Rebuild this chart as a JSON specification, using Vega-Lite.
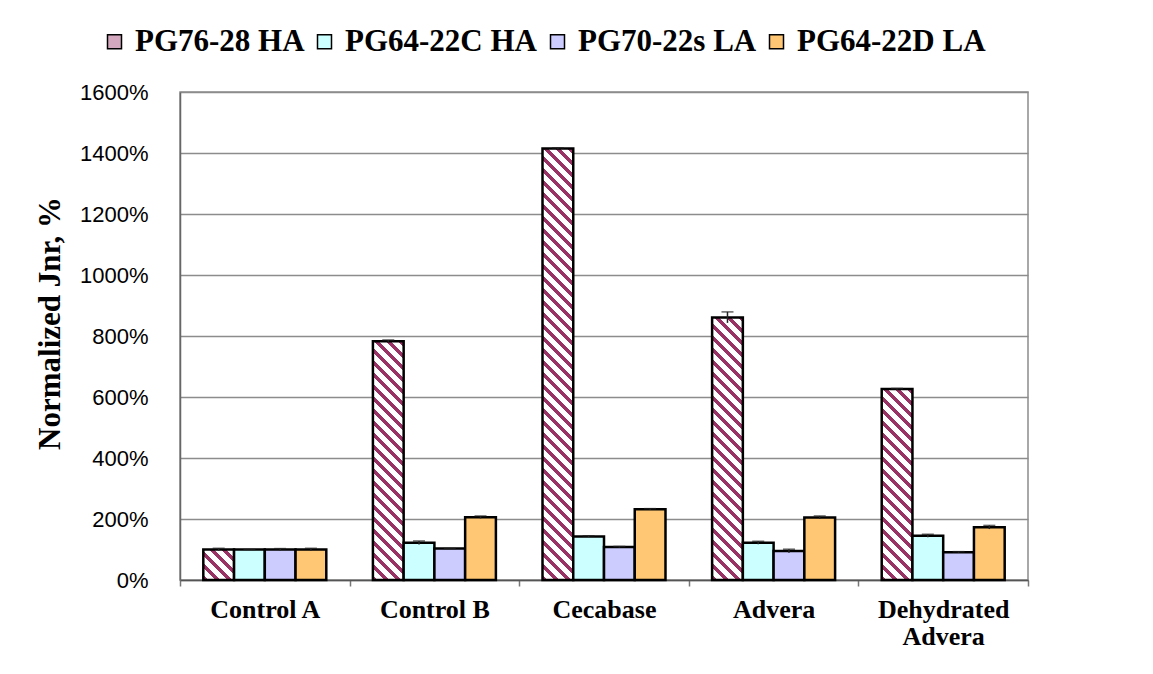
{
  "$schema": "https://vega.github.io/schema/vega-lite/v6.json",
  "autosize": "none",
  "width": 848,
  "height": 488,
  "padding": {"left": 180, "top": 92, "right": 125, "bottom": 94},
  "background": "white",
  "config": {
    "view": {"stroke": "#8c8c8c", "strokeWidth": 1.5},
    "axis": {"labelColor": "black", "titleColor": "black"}
  },
  "data": {
    "values": [
      {"cat": "Control A", "series": "PG76-28 HA", "value": 100, "err": 4},
      {"cat": "Control A", "series": "PG64-22C HA", "value": 100, "err": 0},
      {"cat": "Control A", "series": "PG70-22s LA", "value": 100, "err": 3},
      {"cat": "Control A", "series": "PG64-22D LA", "value": 100, "err": 4},
      {"cat": "Control B", "series": "PG76-28 HA", "value": 783, "err": 4},
      {"cat": "Control B", "series": "PG64-22C HA", "value": 122, "err": 6},
      {"cat": "Control B", "series": "PG70-22s LA", "value": 103, "err": 0},
      {"cat": "Control B", "series": "PG64-22D LA", "value": 206, "err": 4},
      {"cat": "Cecabase", "series": "PG76-28 HA", "value": 1415, "err": 2},
      {"cat": "Cecabase", "series": "PG64-22C HA", "value": 143, "err": 2},
      {"cat": "Cecabase", "series": "PG70-22s LA", "value": 108, "err": 2},
      {"cat": "Cecabase", "series": "PG64-22D LA", "value": 232, "err": 2},
      {"cat": "Advera", "series": "PG76-28 HA", "value": 861, "err": 18},
      {"cat": "Advera", "series": "PG64-22C HA", "value": 122, "err": 5},
      {"cat": "Advera", "series": "PG70-22s LA", "value": 95, "err": 6},
      {"cat": "Advera", "series": "PG64-22D LA", "value": 205, "err": 5},
      {"cat": "Dehydrated Advera", "series": "PG76-28 HA", "value": 626, "err": 2},
      {"cat": "Dehydrated Advera", "series": "PG64-22C HA", "value": 145, "err": 5},
      {"cat": "Dehydrated Advera", "series": "PG70-22s LA", "value": 91, "err": 2},
      {"cat": "Dehydrated Advera", "series": "PG64-22D LA", "value": 173, "err": 6}
    ]
  },
  "transform": [
    {"calculate": "datum.value - datum.err", "as": "lo"},
    {"calculate": "datum.value + datum.err", "as": "hi"}
  ],
  "encoding": {
    "x": {
      "field": "cat", "type": "nominal",
      "sort": ["Control A", "Control B", "Cecabase", "Advera", "Dehydrated Advera"],
      "scale": {"paddingInner": 0, "paddingOuter": 0},
      "axis": {
        "title": null, "labelAngle": 0, "ticks": true, "tickBand": "extent", "tickSize": 6,
        "tickColor": "#777777", "tickWidth": 1.5, "labelPadding": 10,
        "labelFont": "Liberation Serif", "labelFontWeight": "bold", "labelFontSize": 26,
        "labelLineHeight": 27, "labelBaseline": "top",
        "labelExpr": "datum.label == 'Dehydrated Advera' ? ['Dehydrated', 'Advera'] : datum.label",
        "domainColor": "#555555", "domainWidth": 1.5
      }
    },
    "xOffset": {
      "field": "series", "type": "nominal",
      "sort": ["PG76-28 HA", "PG64-22C HA", "PG70-22s LA", "PG64-22D LA"],
      "scale": {"paddingInner": 0, "paddingOuter": 0.758}
    }
  },
  "layer": [
    {
      "mark": {"type": "bar", "stroke": "black", "strokeWidth": 2.5},
      "encoding": {
        "y": {
          "field": "value", "type": "quantitative",
          "scale": {"domain": [0, 1600], "nice": false},
          "axis": {
            "values": [0, 200, 400, 600, 800, 1000, 1200, 1400, 1600],
            "labelExpr": "datum.value + '%'",
            "labelFont": "Liberation Sans", "labelFontSize": 22, "labelPadding": 32,
            "ticks": false,
            "gridColor": "#8c8c8c", "gridWidth": 1.5,
            "domainColor": "#666666", "domainWidth": 1.5,
            "title": "Normalized Jnr, %",
            "titleFont": "Liberation Serif", "titleFontWeight": "bold", "titleFontSize": 31,
            "titleAngle": -90, "titleX": -130, "titleY": 231,
            "titleAlign": "center", "titleBaseline": "middle"
          }
        },
        "fill": {
          "condition": [
            {
              "test": "datum.series == 'PG76-28 HA' && datum.cat == 'Control A'",
              "value": {
                "gradient": "linear", "x1": 0, "y1": 1, "x2": 7.868, "y2": -6.804,
                "stops": [
                  {"offset":0,"color":"#936"},{"offset":0.0105,"color":"#936"},{"offset":0.0105,"color":"#fff"},{"offset":0.025,"color":"#fff"},
                  {"offset":0.025,"color":"#936"},{"offset":0.0355,"color":"#936"},{"offset":0.0355,"color":"#fff"},{"offset":0.05,"color":"#fff"},
                  {"offset":0.05,"color":"#936"},{"offset":0.0605,"color":"#936"},{"offset":0.0605,"color":"#fff"},{"offset":0.075,"color":"#fff"},
                  {"offset":0.075,"color":"#936"},{"offset":0.0855,"color":"#936"},{"offset":0.0855,"color":"#fff"},{"offset":0.1,"color":"#fff"},
                  {"offset":0.1,"color":"#936"},{"offset":0.1105,"color":"#936"},{"offset":0.1105,"color":"#fff"},{"offset":0.125,"color":"#fff"},
                  {"offset":0.125,"color":"#936"},{"offset":0.1355,"color":"#936"},{"offset":0.1355,"color":"#fff"},{"offset":0.15,"color":"#fff"}
                ]
              }
            },
            {
              "test": "datum.series == 'PG76-28 HA' && datum.cat == 'Control B'",
              "value": {
                "gradient": "linear", "x1": 0, "y1": 1, "x2": 0.2546, "y2": -0.9773,
                "stops": [
                  {"offset":0,"color":"#936"},{"offset":0.0105,"color":"#936"},{"offset":0.0105,"color":"#fff"},{"offset":0.025,"color":"#fff"},
                  {"offset":0.025,"color":"#936"},{"offset":0.0355,"color":"#936"},{"offset":0.0355,"color":"#fff"},{"offset":0.05,"color":"#fff"},
                  {"offset":0.05,"color":"#936"},{"offset":0.0605,"color":"#936"},{"offset":0.0605,"color":"#fff"},{"offset":0.075,"color":"#fff"},
                  {"offset":0.075,"color":"#936"},{"offset":0.0855,"color":"#936"},{"offset":0.0855,"color":"#fff"},{"offset":0.1,"color":"#fff"},
                  {"offset":0.1,"color":"#936"},{"offset":0.1105,"color":"#936"},{"offset":0.1105,"color":"#fff"},{"offset":0.125,"color":"#fff"},
                  {"offset":0.125,"color":"#936"},{"offset":0.1355,"color":"#936"},{"offset":0.1355,"color":"#fff"},{"offset":0.15,"color":"#fff"},
                  {"offset":0.15,"color":"#936"},{"offset":0.1605,"color":"#936"},{"offset":0.1605,"color":"#fff"},{"offset":0.175,"color":"#fff"},
                  {"offset":0.175,"color":"#936"},{"offset":0.1855,"color":"#936"},{"offset":0.1855,"color":"#fff"},{"offset":0.2,"color":"#fff"},
                  {"offset":0.2,"color":"#936"},{"offset":0.2105,"color":"#936"},{"offset":0.2105,"color":"#fff"},{"offset":0.225,"color":"#fff"},
                  {"offset":0.225,"color":"#936"},{"offset":0.2355,"color":"#936"},{"offset":0.2355,"color":"#fff"},{"offset":0.25,"color":"#fff"},
                  {"offset":0.25,"color":"#936"},{"offset":0.2605,"color":"#936"},{"offset":0.2605,"color":"#fff"},{"offset":0.275,"color":"#fff"},
                  {"offset":0.275,"color":"#936"},{"offset":0.2855,"color":"#936"},{"offset":0.2855,"color":"#fff"},{"offset":0.3,"color":"#fff"},
                  {"offset":0.3,"color":"#936"},{"offset":0.3105,"color":"#936"},{"offset":0.3105,"color":"#fff"},{"offset":0.325,"color":"#fff"},
                  {"offset":0.325,"color":"#936"},{"offset":0.3355,"color":"#936"},{"offset":0.3355,"color":"#fff"},{"offset":0.35,"color":"#fff"},
                  {"offset":0.35,"color":"#936"},{"offset":0.3605,"color":"#936"},{"offset":0.3605,"color":"#fff"},{"offset":0.375,"color":"#fff"},
                  {"offset":0.375,"color":"#936"},{"offset":0.3855,"color":"#936"},{"offset":0.3855,"color":"#fff"},{"offset":0.4,"color":"#fff"},
                  {"offset":0.4,"color":"#936"},{"offset":0.4105,"color":"#936"},{"offset":0.4105,"color":"#fff"},{"offset":0.425,"color":"#fff"},
                  {"offset":0.425,"color":"#936"},{"offset":0.4355,"color":"#936"},{"offset":0.4355,"color":"#fff"},{"offset":0.45,"color":"#fff"},
                  {"offset":0.45,"color":"#936"},{"offset":0.4605,"color":"#936"},{"offset":0.4605,"color":"#fff"},{"offset":0.475,"color":"#fff"},
                  {"offset":0.475,"color":"#936"},{"offset":0.4855,"color":"#936"},{"offset":0.4855,"color":"#fff"},{"offset":0.5,"color":"#fff"},
                  {"offset":0.5,"color":"#936"},{"offset":0.5105,"color":"#936"},{"offset":0.5105,"color":"#fff"},{"offset":0.525,"color":"#fff"},
                  {"offset":0.525,"color":"#936"},{"offset":0.5355,"color":"#936"},{"offset":0.5355,"color":"#fff"},{"offset":0.55,"color":"#fff"},
                  {"offset":0.55,"color":"#936"},{"offset":0.5605,"color":"#936"},{"offset":0.5605,"color":"#fff"},{"offset":0.575,"color":"#fff"}
                ]
              }
            },
            {
              "test": "datum.series == 'PG76-28 HA' && datum.cat == 'Cecabase'",
              "value": {
                "gradient": "linear", "x1": 0, "y1": 1, "x2": 0.07884, "y2": -0.1065,
                "stops": [
                  {"offset":0,"color":"#936"},{"offset":0.0105,"color":"#936"},{"offset":0.0105,"color":"#fff"},{"offset":0.025,"color":"#fff"},
                  {"offset":0.025,"color":"#936"},{"offset":0.0355,"color":"#936"},{"offset":0.0355,"color":"#fff"},{"offset":0.05,"color":"#fff"},
                  {"offset":0.05,"color":"#936"},{"offset":0.0605,"color":"#936"},{"offset":0.0605,"color":"#fff"},{"offset":0.075,"color":"#fff"},
                  {"offset":0.075,"color":"#936"},{"offset":0.0855,"color":"#936"},{"offset":0.0855,"color":"#fff"},{"offset":0.1,"color":"#fff"},
                  {"offset":0.1,"color":"#936"},{"offset":0.1105,"color":"#936"},{"offset":0.1105,"color":"#fff"},{"offset":0.125,"color":"#fff"},
                  {"offset":0.125,"color":"#936"},{"offset":0.1355,"color":"#936"},{"offset":0.1355,"color":"#fff"},{"offset":0.15,"color":"#fff"},
                  {"offset":0.15,"color":"#936"},{"offset":0.1605,"color":"#936"},{"offset":0.1605,"color":"#fff"},{"offset":0.175,"color":"#fff"},
                  {"offset":0.175,"color":"#936"},{"offset":0.1855,"color":"#936"},{"offset":0.1855,"color":"#fff"},{"offset":0.2,"color":"#fff"},
                  {"offset":0.2,"color":"#936"},{"offset":0.2105,"color":"#936"},{"offset":0.2105,"color":"#fff"},{"offset":0.225,"color":"#fff"},
                  {"offset":0.225,"color":"#936"},{"offset":0.2355,"color":"#936"},{"offset":0.2355,"color":"#fff"},{"offset":0.25,"color":"#fff"},
                  {"offset":0.25,"color":"#936"},{"offset":0.2605,"color":"#936"},{"offset":0.2605,"color":"#fff"},{"offset":0.275,"color":"#fff"},
                  {"offset":0.275,"color":"#936"},{"offset":0.2855,"color":"#936"},{"offset":0.2855,"color":"#fff"},{"offset":0.3,"color":"#fff"},
                  {"offset":0.3,"color":"#936"},{"offset":0.3105,"color":"#936"},{"offset":0.3105,"color":"#fff"},{"offset":0.325,"color":"#fff"},
                  {"offset":0.325,"color":"#936"},{"offset":0.3355,"color":"#936"},{"offset":0.3355,"color":"#fff"},{"offset":0.35,"color":"#fff"},
                  {"offset":0.35,"color":"#936"},{"offset":0.3605,"color":"#936"},{"offset":0.3605,"color":"#fff"},{"offset":0.375,"color":"#fff"},
                  {"offset":0.375,"color":"#936"},{"offset":0.3855,"color":"#936"},{"offset":0.3855,"color":"#fff"},{"offset":0.4,"color":"#fff"},
                  {"offset":0.4,"color":"#936"},{"offset":0.4105,"color":"#936"},{"offset":0.4105,"color":"#fff"},{"offset":0.425,"color":"#fff"},
                  {"offset":0.425,"color":"#936"},{"offset":0.4355,"color":"#936"},{"offset":0.4355,"color":"#fff"},{"offset":0.45,"color":"#fff"},
                  {"offset":0.45,"color":"#936"},{"offset":0.4605,"color":"#936"},{"offset":0.4605,"color":"#fff"},{"offset":0.475,"color":"#fff"},
                  {"offset":0.475,"color":"#936"},{"offset":0.4855,"color":"#936"},{"offset":0.4855,"color":"#fff"},{"offset":0.5,"color":"#fff"},
                  {"offset":0.5,"color":"#936"},{"offset":0.5105,"color":"#936"},{"offset":0.5105,"color":"#fff"},{"offset":0.525,"color":"#fff"},
                  {"offset":0.525,"color":"#936"},{"offset":0.5355,"color":"#936"},{"offset":0.5355,"color":"#fff"},{"offset":0.55,"color":"#fff"},
                  {"offset":0.55,"color":"#936"},{"offset":0.5605,"color":"#936"},{"offset":0.5605,"color":"#fff"},{"offset":0.575,"color":"#fff"},
                  {"offset":0.575,"color":"#936"},{"offset":0.5855,"color":"#936"},{"offset":0.5855,"color":"#fff"},{"offset":0.6,"color":"#fff"},
                  {"offset":0.6,"color":"#936"},{"offset":0.6105,"color":"#936"},{"offset":0.6105,"color":"#fff"},{"offset":0.625,"color":"#fff"},
                  {"offset":0.625,"color":"#936"},{"offset":0.6355,"color":"#936"},{"offset":0.6355,"color":"#fff"},{"offset":0.65,"color":"#fff"},
                  {"offset":0.65,"color":"#936"},{"offset":0.6605,"color":"#936"},{"offset":0.6605,"color":"#fff"},{"offset":0.675,"color":"#fff"},
                  {"offset":0.675,"color":"#936"},{"offset":0.6855,"color":"#936"},{"offset":0.6855,"color":"#fff"},{"offset":0.7,"color":"#fff"},
                  {"offset":0.7,"color":"#936"},{"offset":0.7105,"color":"#936"},{"offset":0.7105,"color":"#fff"},{"offset":0.725,"color":"#fff"},
                  {"offset":0.725,"color":"#936"},{"offset":0.7355,"color":"#936"},{"offset":0.7355,"color":"#fff"},{"offset":0.75,"color":"#fff"},
                  {"offset":0.75,"color":"#936"},{"offset":0.7605,"color":"#936"},{"offset":0.7605,"color":"#fff"},{"offset":0.775,"color":"#fff"},
                  {"offset":0.775,"color":"#936"},{"offset":0.7855,"color":"#936"},{"offset":0.7855,"color":"#fff"},{"offset":0.8,"color":"#fff"},
                  {"offset":0.8,"color":"#936"},{"offset":0.8105,"color":"#936"},{"offset":0.8105,"color":"#fff"},{"offset":0.825,"color":"#fff"},
                  {"offset":0.825,"color":"#936"},{"offset":0.8355,"color":"#936"},{"offset":0.8355,"color":"#fff"},{"offset":0.85,"color":"#fff"},
                  {"offset":0.85,"color":"#936"},{"offset":0.8605,"color":"#936"},{"offset":0.8605,"color":"#fff"},{"offset":0.875,"color":"#fff"},
                  {"offset":0.875,"color":"#936"},{"offset":0.8855,"color":"#936"},{"offset":0.8855,"color":"#fff"},{"offset":0.9,"color":"#fff"},
                  {"offset":0.9,"color":"#936"},{"offset":0.9105,"color":"#936"},{"offset":0.9105,"color":"#fff"},{"offset":0.925,"color":"#fff"},
                  {"offset":0.925,"color":"#936"},{"offset":0.9355,"color":"#936"},{"offset":0.9355,"color":"#fff"},{"offset":0.95,"color":"#fff"},
                  {"offset":0.95,"color":"#936"},{"offset":0.9605,"color":"#936"},{"offset":0.9605,"color":"#fff"},{"offset":0.975,"color":"#fff"}
                ]
              }
            },
            {
              "test": "datum.series == 'PG76-28 HA' && datum.cat == 'Advera'",
              "value": {
                "gradient": "linear", "x1": 0, "y1": 1, "x2": 0.2111, "y2": -0.8032,
                "stops": [
                  {"offset":0,"color":"#936"},{"offset":0.0105,"color":"#936"},{"offset":0.0105,"color":"#fff"},{"offset":0.025,"color":"#fff"},
                  {"offset":0.025,"color":"#936"},{"offset":0.0355,"color":"#936"},{"offset":0.0355,"color":"#fff"},{"offset":0.05,"color":"#fff"},
                  {"offset":0.05,"color":"#936"},{"offset":0.0605,"color":"#936"},{"offset":0.0605,"color":"#fff"},{"offset":0.075,"color":"#fff"},
                  {"offset":0.075,"color":"#936"},{"offset":0.0855,"color":"#936"},{"offset":0.0855,"color":"#fff"},{"offset":0.1,"color":"#fff"},
                  {"offset":0.1,"color":"#936"},{"offset":0.1105,"color":"#936"},{"offset":0.1105,"color":"#fff"},{"offset":0.125,"color":"#fff"},
                  {"offset":0.125,"color":"#936"},{"offset":0.1355,"color":"#936"},{"offset":0.1355,"color":"#fff"},{"offset":0.15,"color":"#fff"},
                  {"offset":0.15,"color":"#936"},{"offset":0.1605,"color":"#936"},{"offset":0.1605,"color":"#fff"},{"offset":0.175,"color":"#fff"},
                  {"offset":0.175,"color":"#936"},{"offset":0.1855,"color":"#936"},{"offset":0.1855,"color":"#fff"},{"offset":0.2,"color":"#fff"},
                  {"offset":0.2,"color":"#936"},{"offset":0.2105,"color":"#936"},{"offset":0.2105,"color":"#fff"},{"offset":0.225,"color":"#fff"},
                  {"offset":0.225,"color":"#936"},{"offset":0.2355,"color":"#936"},{"offset":0.2355,"color":"#fff"},{"offset":0.25,"color":"#fff"},
                  {"offset":0.25,"color":"#936"},{"offset":0.2605,"color":"#936"},{"offset":0.2605,"color":"#fff"},{"offset":0.275,"color":"#fff"},
                  {"offset":0.275,"color":"#936"},{"offset":0.2855,"color":"#936"},{"offset":0.2855,"color":"#fff"},{"offset":0.3,"color":"#fff"},
                  {"offset":0.3,"color":"#936"},{"offset":0.3105,"color":"#936"},{"offset":0.3105,"color":"#fff"},{"offset":0.325,"color":"#fff"},
                  {"offset":0.325,"color":"#936"},{"offset":0.3355,"color":"#936"},{"offset":0.3355,"color":"#fff"},{"offset":0.35,"color":"#fff"},
                  {"offset":0.35,"color":"#936"},{"offset":0.3605,"color":"#936"},{"offset":0.3605,"color":"#fff"},{"offset":0.375,"color":"#fff"},
                  {"offset":0.375,"color":"#936"},{"offset":0.3855,"color":"#936"},{"offset":0.3855,"color":"#fff"},{"offset":0.4,"color":"#fff"},
                  {"offset":0.4,"color":"#936"},{"offset":0.4105,"color":"#936"},{"offset":0.4105,"color":"#fff"},{"offset":0.425,"color":"#fff"},
                  {"offset":0.425,"color":"#936"},{"offset":0.4355,"color":"#936"},{"offset":0.4355,"color":"#fff"},{"offset":0.45,"color":"#fff"},
                  {"offset":0.45,"color":"#936"},{"offset":0.4605,"color":"#936"},{"offset":0.4605,"color":"#fff"},{"offset":0.475,"color":"#fff"},
                  {"offset":0.475,"color":"#936"},{"offset":0.4855,"color":"#936"},{"offset":0.4855,"color":"#fff"},{"offset":0.5,"color":"#fff"},
                  {"offset":0.5,"color":"#936"},{"offset":0.5105,"color":"#936"},{"offset":0.5105,"color":"#fff"},{"offset":0.525,"color":"#fff"},
                  {"offset":0.525,"color":"#936"},{"offset":0.5355,"color":"#936"},{"offset":0.5355,"color":"#fff"},{"offset":0.55,"color":"#fff"},
                  {"offset":0.55,"color":"#936"},{"offset":0.5605,"color":"#936"},{"offset":0.5605,"color":"#fff"},{"offset":0.575,"color":"#fff"},
                  {"offset":0.575,"color":"#936"},{"offset":0.5855,"color":"#936"},{"offset":0.5855,"color":"#fff"},{"offset":0.6,"color":"#fff"},
                  {"offset":0.6,"color":"#936"},{"offset":0.6105,"color":"#936"},{"offset":0.6105,"color":"#fff"},{"offset":0.625,"color":"#fff"}
                ]
              }
            },
            {
              "test": "datum.series == 'PG76-28 HA' && datum.cat == 'Dehydrated Advera'",
              "value": {
                "gradient": "linear", "x1": 0, "y1": 1, "x2": 0.3948, "y2": -1.4508,
                "stops": [
                  {"offset":0,"color":"#936"},{"offset":0.0105,"color":"#936"},{"offset":0.0105,"color":"#fff"},{"offset":0.025,"color":"#fff"},
                  {"offset":0.025,"color":"#936"},{"offset":0.0355,"color":"#936"},{"offset":0.0355,"color":"#fff"},{"offset":0.05,"color":"#fff"},
                  {"offset":0.05,"color":"#936"},{"offset":0.0605,"color":"#936"},{"offset":0.0605,"color":"#fff"},{"offset":0.075,"color":"#fff"},
                  {"offset":0.075,"color":"#936"},{"offset":0.0855,"color":"#936"},{"offset":0.0855,"color":"#fff"},{"offset":0.1,"color":"#fff"},
                  {"offset":0.1,"color":"#936"},{"offset":0.1105,"color":"#936"},{"offset":0.1105,"color":"#fff"},{"offset":0.125,"color":"#fff"},
                  {"offset":0.125,"color":"#936"},{"offset":0.1355,"color":"#936"},{"offset":0.1355,"color":"#fff"},{"offset":0.15,"color":"#fff"},
                  {"offset":0.15,"color":"#936"},{"offset":0.1605,"color":"#936"},{"offset":0.1605,"color":"#fff"},{"offset":0.175,"color":"#fff"},
                  {"offset":0.175,"color":"#936"},{"offset":0.1855,"color":"#936"},{"offset":0.1855,"color":"#fff"},{"offset":0.2,"color":"#fff"},
                  {"offset":0.2,"color":"#936"},{"offset":0.2105,"color":"#936"},{"offset":0.2105,"color":"#fff"},{"offset":0.225,"color":"#fff"},
                  {"offset":0.225,"color":"#936"},{"offset":0.2355,"color":"#936"},{"offset":0.2355,"color":"#fff"},{"offset":0.25,"color":"#fff"},
                  {"offset":0.25,"color":"#936"},{"offset":0.2605,"color":"#936"},{"offset":0.2605,"color":"#fff"},{"offset":0.275,"color":"#fff"},
                  {"offset":0.275,"color":"#936"},{"offset":0.2855,"color":"#936"},{"offset":0.2855,"color":"#fff"},{"offset":0.3,"color":"#fff"},
                  {"offset":0.3,"color":"#936"},{"offset":0.3105,"color":"#936"},{"offset":0.3105,"color":"#fff"},{"offset":0.325,"color":"#fff"},
                  {"offset":0.325,"color":"#936"},{"offset":0.3355,"color":"#936"},{"offset":0.3355,"color":"#fff"},{"offset":0.35,"color":"#fff"},
                  {"offset":0.35,"color":"#936"},{"offset":0.3605,"color":"#936"},{"offset":0.3605,"color":"#fff"},{"offset":0.375,"color":"#fff"},
                  {"offset":0.375,"color":"#936"},{"offset":0.3855,"color":"#936"},{"offset":0.3855,"color":"#fff"},{"offset":0.4,"color":"#fff"},
                  {"offset":0.4,"color":"#936"},{"offset":0.4105,"color":"#936"},{"offset":0.4105,"color":"#fff"},{"offset":0.425,"color":"#fff"},
                  {"offset":0.425,"color":"#936"},{"offset":0.4355,"color":"#936"},{"offset":0.4355,"color":"#fff"},{"offset":0.45,"color":"#fff"},
                  {"offset":0.45,"color":"#936"},{"offset":0.4605,"color":"#936"},{"offset":0.4605,"color":"#fff"},{"offset":0.475,"color":"#fff"}
                ]
              }
            }
          ],
          "field": "series", "type": "nominal",
          "sort": ["PG76-28 HA", "PG64-22C HA", "PG70-22s LA", "PG64-22D LA"],
          "scale": {"range": ["#d4a9bf", "#ccffff", "#ccccff", "#ffc773"]},
          "legend": {
            "title": null, "orient": "none", "legendX": -81, "legendY": -66,
            "direction": "horizontal", "columns": 4, "columnPadding": 4,
            "symbolType": "square", "symbolSize": 196, "symbolStrokeColor": "black", "symbolStrokeWidth": 1.5,
            "labelFont": "Liberation Serif", "labelFontWeight": "bold", "labelFontSize": 31,
            "labelColor": "black", "labelOffset": 5, "labelLimit": 400
          }
        }
      }
    },
    {
      "mark": {"type": "rule", "color": "#222222", "strokeWidth": 1.5},
      "encoding": {
        "y": {"field": "lo", "type": "quantitative"},
        "y2": {"field": "hi"}
      }
    },
    {
      "mark": {"type": "tick", "color": "#222222", "thickness": 1.5, "size": 12},
      "encoding": {
        "y": {"field": "hi", "type": "quantitative"}
      }
    }
  ]
}
